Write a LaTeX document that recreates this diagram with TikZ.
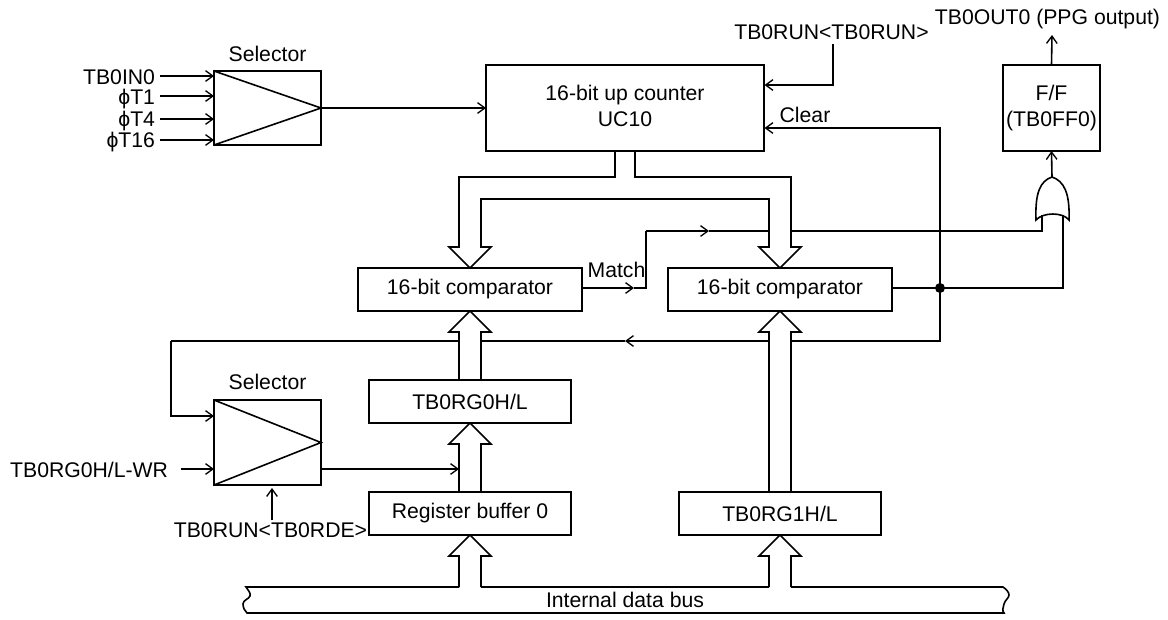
\documentclass[tikz,border=0pt]{standalone}
\usepackage{fontspec}
\setmainfont{Liberation Sans}
\usetikzlibrary{arrows.meta,calc}
\newcommand{\busup}[2]{%
  \draw[wire,miter limit=10] ($(#2 -| #1)+(-11,0)$) -- ($(#1)+(-11,21)$) -- ($(#1)+(-21,21)$) -- (#1) -- ($(#1)+(21,21)$) -- ($(#1)+(11,21)$) -- ($(#2 -| #1)+(11,0)$);}
\tikzset{
  x=0.75pt,y=-0.75pt,
  wire/.style={line width=1.2pt,black},
  arr/.style={wire,-{Straight Barb[length=5.5pt,width=8pt,line width=1pt]}},
  txt/.style={inner sep=0pt,outer sep=0pt,font=\fontsize{15.9pt}{19pt}\selectfont,align=center},
  blockbox/.style={draw,line width=1.2pt,inner sep=0pt,outer sep=0pt,align=center,font=\fontsize{15.9pt}{19.5pt}\selectfont},
  selbox/.style={blockbox,minimum width=80.25pt},
  regbox/.style={blockbox,minimum height=32.25pt},
  junction/.style={circle,fill=black,inner sep=0pt,minimum size=7.5pt}
}
\begin{document}
\begin{tikzpicture}
\useasboundingbox (0,0) rectangle (1168,619);
% blocks
\node[selbox,minimum height=55.5pt] (sel1) at (267.5,108) {};
\node[selbox,minimum height=63.75pt] (sel2) at (267.5,442.5) {};
\draw[wire,line join=miter] (sel1.north west) -- (sel1.east) -- (sel1.south west);
\draw[wire,line join=miter] (sel2.north west) -- (sel2.east) -- (sel2.south west);
\node[blockbox,minimum width=208.5pt,minimum height=64.5pt] (counter) at (625,108) {16-bit up counter\\UC10\rule[-3pt]{0pt}{0pt}};
\node[blockbox,minimum width=72.75pt,minimum height=64.5pt] (ff) at (1051.5,108) {F/F\\(TB0FF0)};
\node[regbox,minimum width=168pt] (cmpa) at (470,289.5) {16-bit comparator};
\node[regbox,minimum width=168pt] (cmpb) at (780,289.5) {16-bit comparator};
\node[regbox,minimum width=151.5pt] (rga) at (470,401.5) {TB0RG0H/L};
\node[regbox,minimum width=151.5pt] (buf) at (470,513.5) {Register buffer 0};
\node[regbox,minimum width=151.5pt] (rgb) at (780,513.5) {TB0RG1H/L};
% labels
\node[txt] (sel1t) at (267.5,54) {Selector};
\node[txt] (sel2t) at (267.5,382) {Selector};
\node[txt,anchor=east] (in0) at (155,77) {TB0IN0};
\node[txt,anchor=east] (in1) at (155,99) {ϕT1};
\node[txt,anchor=east] (in2) at (155,121) {ϕT4};
\node[txt,anchor=east] (in3) at (155,142) {ϕT16};
\node[txt,anchor=east] (wr) at (168,470) {TB0RG0H/L-WR};
\node[txt] (rde) at (270.5,530) {TB0RUN<TB0RDE>};
\node[txt] (run) at (831.5,32) {TB0RUN<TB0RUN>};
\node[txt] (out) at (1047.5,19) {TB0OUT0 (PPG output)};
\node[txt] (clr) at (805,115) {Clear};
\node[txt] (mat) at (616.5,270) {Match};
\node[txt] (dbl) at (625,600) {Internal data bus};
% selector 1 connections
\draw[arr] (160,76) coordinate (i0) -- (i0 -| sel1.west);
\draw[arr] (160,96) coordinate (i1) -- (i1 -| sel1.west);
\draw[arr] (160,119) coordinate (i2) -- (i2 -| sel1.west);
\draw[arr] (160,140) coordinate (i3) -- (i3 -| sel1.west);
\draw[arr] (sel1.east) -- (counter.west);
% counter inputs
\coordinate (runa) at (833,44);
\coordinate (clra) at (764.5,128);
\coordinate (junc) at (940,288);
\draw[arr] (runa) |- (764.5,85) coordinate (runb);
\draw[arr] (junc) |- (clra);
% counter to comparators (hollow buses)
\coordinate (cl) at (615,151);
\coordinate (cr) at (635,151);
\draw[wire,miter limit=10] (cl) -- (615,177) -- ($(cmpa.north)+(-11,-91)$) -- ($(cmpa.north)+(-11,-21)$) -- ($(cmpa.north)+(-21,-21)$) -- (cmpa.north) -- ($(cmpa.north)+(21,-21)$) -- ($(cmpa.north)+(11,-21)$) -- ($(cmpa.north)+(11,-69)$) -- ($(cmpb.north)+(-11,-69)$) -- ($(cmpb.north)+(-11,-21)$) -- ($(cmpb.north)+(-21,-21)$) -- (cmpb.north) -- ($(cmpb.north)+(21,-21)$) -- ($(cmpb.north)+(11,-21)$) -- ($(cmpb.north)+(11,-91)$) -- (635,177) -- (cr);
% data bus
\coordinate (dt) at (625,587);
% buses from below
\busup{cmpa.south}{rga.north}
\busup{rga.south}{buf.north}
\busup{buf.south}{dt}
\busup{cmpb.south}{rgb.north}
\busup{rgb.south}{dt}
\draw[wire] ($(dt -| buf.south)+(-11,0)$) -- (246,587) .. controls (248,590) and (251,593) .. (250,596) .. controls (249,599) and (243,600) .. (243,604) .. controls (243,608) and (245,611) .. (247,613) -- (1004,613) .. controls (1002,611) and (1003,607) .. (1004,604) .. controls (1005,600) and (1009,598) .. (1009,595) .. controls (1009,592) and (1006,589) .. (1003,587) -- ($(dt -| rgb.south)+(11,0)$);
\draw[wire] ($(dt -| buf.south)+(11,0)$) -- ($(dt -| rgb.south)+(-11,0)$);
% match path
\coordinate (ma) at (634,288);
\coordinate (mb) at (646,231);
\coordinate (mc) at (709,231);
\coordinate (md) at (769,231);
\draw[arr] (ma -| cmpa.east) -- (ma);
\draw[wire] (ma) -| (mb);
\draw[arr] (mb) -- (mc);
\draw[wire] (mc) -- (md);
% OR gate
\coordinate (ort) at (1052,177);
\coordinate (orl) at (1036,220);
\coordinate (orr) at (1069,220);
\draw[wire,miter limit=3] (orl) .. controls (1035,193) and (1040,181) .. (ort) .. controls (1064,181) and (1070,193) .. (orr) .. controls (1063,212) and (1043,212) .. (orl) -- cycle;
\coordinate (ina) at (1042,214.5);
\coordinate (inb) at (1063,214.5);
\draw[wire] (791,231) -- (1042,231) -- (ina);
\draw[wire] (cmpb.east |- junc) -- (junc) -- (1063,288) -- (inb);
\node[junction] (dot) at (junc) {};
\draw[arr] (ort) -- (ff.south);
\draw[arr] (ff.north) -- (1052,35) coordinate (oute);
% feedback
\coordinate (fa) at (625,341);
\draw[wire] (junc) |- (791,341);
\draw[arr] (769,341) -- (fa);
\draw[wire] (fa) -- (481,341);
\coordinate (fc) at (171,341);
\draw[wire] (459,341) -- (fc);
\draw[arr] (fc) |- (214,416) coordinate (fd);
% selector 2 connections
\draw[arr] (181,469) coordinate (wi) -- (wi -| sel2.west);
\draw[arr] (sel2.east |- wi) -- (459,469) coordinate (so);
\draw[arr] (272,520) coordinate (rdea) -- (272,488);
\end{tikzpicture}
\end{document}
